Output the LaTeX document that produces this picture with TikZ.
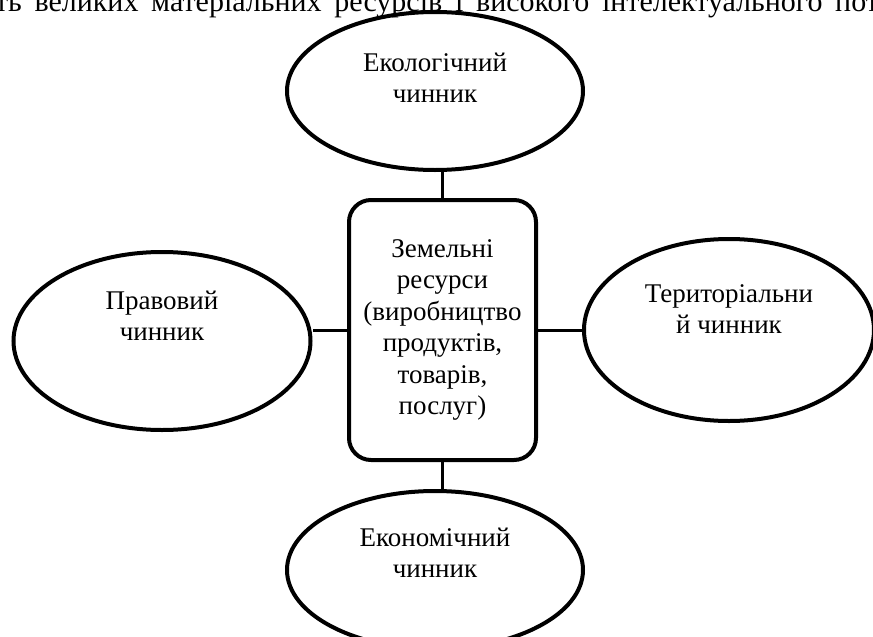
\documentclass[tikz,border=0pt]{standalone}
\usepackage{fontspec}
\setmainfont{Liberation Serif}
\usetikzlibrary{shapes.geometric}

\begin{document}
\begin{tikzpicture}[x=1pt,y=-1pt,
  factor/.style={draw,ellipse,line width=4pt,inner sep=0pt,minimum width=296pt,minimum height=158pt},
  factortext/.style={align=center,font=\fontsize{27}{31.4}\selectfont},
  resbox/.style={draw,rectangle,rounded corners=22pt,line width=4pt,minimum width=187pt,minimum height=260pt,
    align=center,font=\fontsize{27}{31.4}\selectfont},
  link/.style={line width=3pt}]

% Page frame
\useasboundingbox (0,0) rectangle (873,637);

% Cut-off line of text above the picture
\node[anchor=base,inner sep=0pt,font=\fontsize{30}{31.4}\selectfont] (topline) at (437,11)
  {\makebox[884pt][s]{ть великих матеріальних ресурсів і високого інтелектуального пот}};

% Central box
\node[resbox] (land) at (442.5,330)
  {Земельні\\ресурси\\(виробництво\\продуктів,\\товарів,\\послуг)};

% Factors
\node[factor] (eco) at (435,91) {};
\node[factortext] (ecotext) at ([yshift=13pt]eco.center) {Екологічний\\чинник};

\node[factor,minimum width=297pt,minimum height=178pt] (law) at (162,341) {};
\node[factortext] (lawtext) at ([yshift=25pt]law.center) {Правовий\\чинник};

\node[factor,minimum width=290pt,minimum height=182pt] (terr) at (729,330) {};
\node[factortext] (terrtext) at ([yshift=21pt]terr.center) {Територіальни\\й чинник};

\node[factor] (econ) at (435,570) {};
\node[factortext] (econtext) at ([yshift=17pt]econ.center) {Економічний\\чинник};

% Links
\draw[link] (land.north) -- (land.north |- eco.south);
\draw[link] (land.west) -- (land.west -| law.east);
\draw[link] (land.east) -- (land.east -| terr.west);
\draw[link] (land.south) -- (land.south |- econ.north);

\end{tikzpicture}
\end{document}
